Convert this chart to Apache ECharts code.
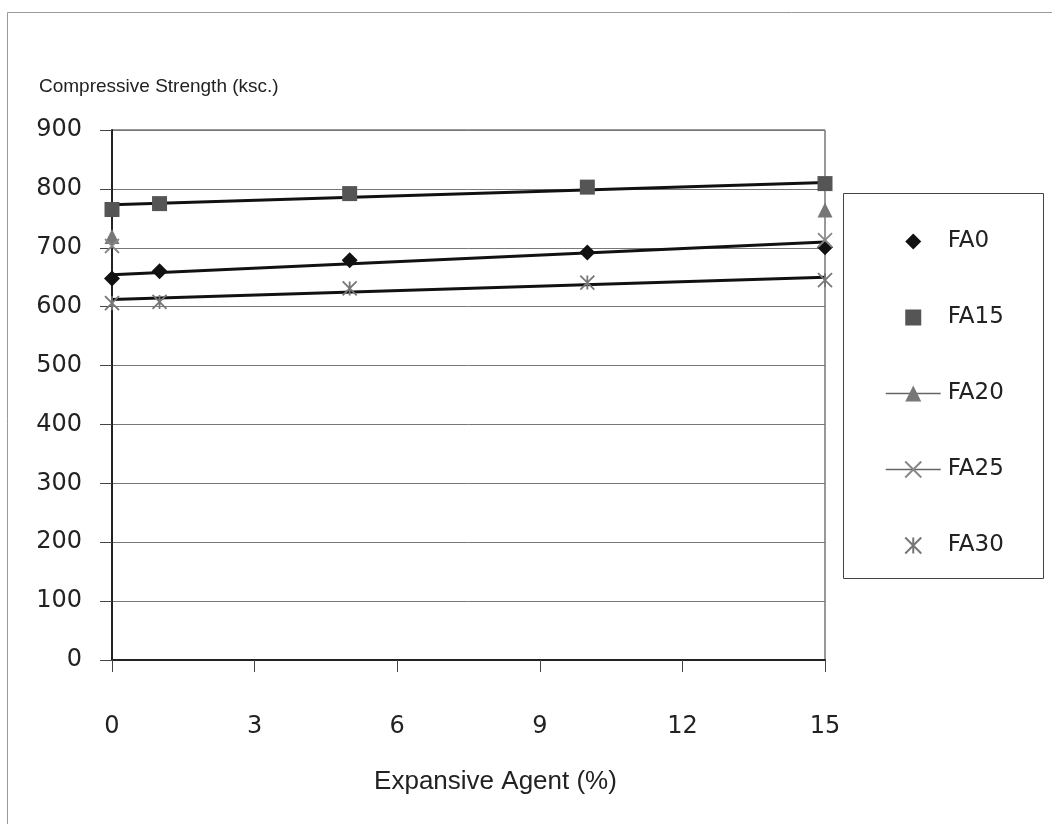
<!DOCTYPE html>
<html>
<head>
<meta charset="utf-8">
<script src="https://cdn.jsdelivr.net/npm/echarts@6/dist/echarts.min.js"></script>
<style>
  html, body { margin: 0; padding: 0; background: #fff; }
  #chart { width: 1052px; height: 824px; }
</style>
</head>
<body>
<div id="chart"></div>
<script>
// ---- data ----
var xTicks = [0, 3, 6, 9, 12, 15];
var fa0   = [[0, 648], [1, 660], [5, 679], [10, 692], [15, 701]];
var fa15  = [[0, 765], [1, 775], [5, 792], [10, 803], [15, 809]];
var fa20  = [[0, 719], [15, 764]];
var fa25  = [[0, 703], [15, 713]];
var fa30  = [[0, 606], [1, 608], [5, 631], [10, 641], [15, 645]];
// trend lines (end points)
var trendFA0  = [[0, 654], [15, 710]];
var trendFA15 = [[0, 773], [15, 811]];
var trendFA30 = [[0, 612], [15, 650]];

var seriesNames = ['FA0', 'FA15', 'FA20', 'FA25', 'FA30'];
var yAxisName = 'Compressive Strength (ksc.)';
var xAxisName = 'Expansive Agent (%)';

var FONT = 'DejaVu Sans';
var crossPath = 'path://M0,0L10,10M10,0L0,10';
var starPath = 'path://M0,0L10,10M10,0L0,10M5,0L5,10';

function markerSeries(name, data, symbol, size, itemStyle) {
  return {
    name: name, type: 'line', data: data,
    symbol: symbol, symbolSize: size, showSymbol: true,
    lineStyle: { opacity: 0, width: 0 },
    itemStyle: itemStyle,
    z: 5, animation: false, silent: true
  };
}
function trendSeries(data) {
  return {
    type: 'line', data: data, symbol: 'none',
    lineStyle: { color: '#111', width: 3 },
    z: 3, animation: false, silent: true
  };
}

var chart = echarts.init(document.getElementById('chart'), null, { renderer: 'canvas' });
chart.setOption({
  backgroundColor: '#fff',
  animation: false,
  title: {
    text: yAxisName, left: 34, top: 72,
    textStyle: { fontFamily: 'Liberation Sans', fontSize: 19, fontWeight: 'normal', color: '#222' }
  },
  grid: { left: 112, top: 130, right: 227, bottom: 164, show: true, borderColor: '#333', borderWidth: 1 },
  xAxis: {
    type: 'value', min: 0, max: 15, interval: 3,
    name: xAxisName, nameLocation: 'middle', nameGap: 109,
    nameTextStyle: { fontFamily: 'Liberation Sans', fontSize: 26, color: '#222', padding: [0, 0, 0, 54] },
    axisLine: { lineStyle: { color: '#222', width: 2 } },
    axisTick: { show: true, length: 12, lineStyle: { color: '#444', width: 1 } },
    axisLabel: { margin: 55, fontFamily: FONT, fontSize: 24, color: '#222',
      formatter: function (v) { return xTicks.indexOf(v) >= 0 ? String(v) : ''; } },
    splitLine: { show: false }
  },
  yAxis: {
    type: 'value', min: 0, max: 900, interval: 100,
    axisLine: { show: true, lineStyle: { color: '#222', width: 2 } },
    axisTick: { show: true, length: 12, lineStyle: { color: '#444', width: 1 } },
    axisLabel: { margin: 30, fontFamily: FONT, fontSize: 24, color: '#222' },
    splitLine: { show: true, lineStyle: { color: '#777', width: 1 } }
  },
  legend: {
    orient: 'vertical', left: 880, top: 223,
    itemWidth: 55, itemHeight: 20, itemGap: 49,
    textStyle: { fontFamily: FONT, fontSize: 23, color: '#222', lineHeight: 27, padding: [0, 0, 0, 2] },
    data: [
      { name: 'FA0', lineStyle: { opacity: 0 } },
      { name: 'FA15', lineStyle: { opacity: 0 } },
      { name: 'FA20', lineStyle: { opacity: 1, width: 1.5, color: '#666' } },
      { name: 'FA25', lineStyle: { opacity: 1, width: 1.5, color: '#666' } },
      { name: 'FA30', lineStyle: { opacity: 0 } }
    ],
    selectedMode: false
  },
  graphic: [
    { type: 'rect', shape: { x: 7.5, y: 12.5, width: 1100, height: 900 },
      style: { fill: 'none', stroke: '#999', lineWidth: 1 }, z: -10, silent: true },
    { type: 'rect', shape: { x: 843.5, y: 193.5, width: 200, height: 385 },
      style: { fill: 'none', stroke: '#444', lineWidth: 1 }, z: 10, silent: true }
  ],
  series: [
    trendSeries(trendFA0),
    trendSeries(trendFA15),
    trendSeries(trendFA30),
    markerSeries('FA0', fa0, 'diamond', 16, { color: '#111' }),
    markerSeries('FA15', fa15, 'rect', 15, { color: '#555' }),
    markerSeries('FA20', fa20, 'triangle', 15, { color: '#777' }),
    markerSeries('FA25', fa25, crossPath, 14, { color: 'rgba(0,0,0,0)', borderColor: '#888', borderWidth: 1.8 }),
    markerSeries('FA30', fa30, starPath, 14, { color: 'rgba(0,0,0,0)', borderColor: '#777', borderWidth: 1.8 })
  ]
});
</script>
</body>
</html>
